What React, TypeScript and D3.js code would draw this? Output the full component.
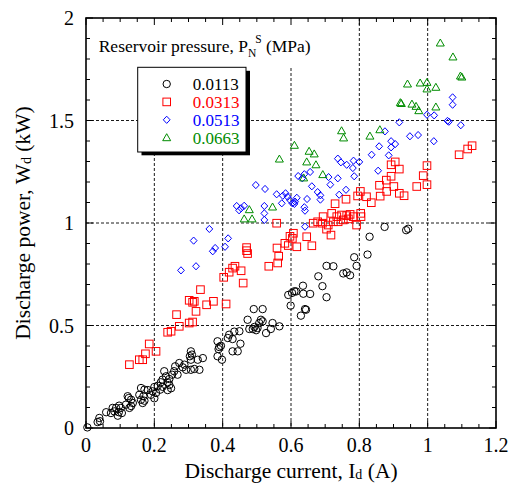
import React from 'react';
import * as d3 from 'd3';

// Series: reservoir pressure 0.0113 MPa (black circles)
const s0113: [number, number][] = [
  [0.874, 0.981], [0.937, 0.965], [0.943, 0.972], [0.830, 0.933], [0.785, 0.833], [0.824, 0.846],
  [0.792, 0.791], [0.704, 0.791], [0.724, 0.789], [0.753, 0.754], [0.763, 0.759], [0.773, 0.745],
  [0.680, 0.740], [0.635, 0.694], [0.692, 0.692], [0.610, 0.667], [0.603, 0.659], [0.592, 0.649],
  [0.615, 0.666], [0.636, 0.655], [0.656, 0.654], [0.704, 0.638], [0.599, 0.597], [0.641, 0.580],
  [0.644, 0.577], [0.629, 0.548], [0.517, 0.580], [0.491, 0.580], [0.473, 0.528], [0.512, 0.528],
  [0.507, 0.512], [0.517, 0.520], [0.478, 0.483], [0.488, 0.483], [0.498, 0.477], [0.502, 0.488],
  [0.493, 0.493], [0.527, 0.463], [0.546, 0.512], [0.566, 0.496], [0.541, 0.483], [0.419, 0.455],
  [0.415, 0.439], [0.429, 0.434], [0.449, 0.472], [0.452, 0.411], [0.434, 0.470], [0.385, 0.423],
  [0.390, 0.395], [0.395, 0.401], [0.388, 0.385], [0.385, 0.350], [0.398, 0.333], [0.429, 0.374],
  [0.444, 0.374], [0.307, 0.374], [0.310, 0.358], [0.304, 0.350], [0.307, 0.333], [0.342, 0.341],
  [0.327, 0.333], [0.332, 0.284], [0.307, 0.284], [0.317, 0.288], [0.261, 0.301], [0.273, 0.317],
  [0.283, 0.296], [0.293, 0.284], [0.288, 0.309], [0.258, 0.277], [0.268, 0.260], [0.229, 0.277],
  [0.234, 0.252], [0.224, 0.236], [0.244, 0.239], [0.252, 0.260], [0.239, 0.223], [0.219, 0.223],
  [0.210, 0.206], [0.200, 0.200], [0.195, 0.179], [0.205, 0.171], [0.190, 0.162], [0.217, 0.187],
  [0.161, 0.195], [0.171, 0.187], [0.156, 0.162], [0.168, 0.155], [0.161, 0.138], [0.166, 0.122],
  [0.125, 0.146], [0.132, 0.138], [0.137, 0.122], [0.117, 0.114], [0.127, 0.098], [0.122, 0.155],
  [0.097, 0.109], [0.102, 0.098], [0.088, 0.098], [0.078, 0.098], [0.083, 0.081], [0.096, 0.077],
  [0.105, 0.073], [0.093, 0.060], [0.073, 0.073], [0.059, 0.077], [0.039, 0.049], [0.041, 0.033],
  [0.034, 0.029], [0.004, 0.003], [0.244, 0.210], [0.249, 0.194], [0.239, 0.185], [0.224, 0.201],
  [0.200, 0.145], [0.181, 0.185], [0.132, 0.107], [0.171, 0.133],
];

// Series: 0.0313 MPa (red squares)
const s0313: [number, number][] = [
  [1.130, 1.377], [1.117, 1.361], [1.092, 1.333], [0.998, 1.280], [0.987, 1.231], [0.998, 1.187],
  [0.968, 1.178], [0.905, 1.298], [0.893, 1.284], [0.917, 1.263], [0.893, 1.228], [0.879, 1.209],
  [0.901, 1.178], [0.859, 1.184], [0.880, 1.154], [0.917, 1.145], [0.931, 1.133], [0.861, 1.131],
  [0.835, 1.099], [0.803, 1.154], [0.795, 1.132], [0.821, 1.128], [0.761, 1.116], [0.729, 1.094],
  [0.694, 1.031], [0.719, 1.047], [0.734, 1.031], [0.748, 1.039], [0.763, 1.036], [0.773, 1.042],
  [0.782, 1.031], [0.804, 1.047], [0.665, 0.999], [0.678, 1.006], [0.692, 0.999], [0.709, 0.990],
  [0.724, 1.006], [0.738, 1.006], [0.753, 1.015], [0.768, 1.020], [0.792, 0.990], [0.805, 1.031],
  [0.558, 0.999], [0.607, 0.950], [0.604, 0.925], [0.646, 0.933], [0.717, 0.941], [0.704, 0.970],
  [0.617, 0.884], [0.661, 0.889], [0.592, 0.890], [0.582, 0.901], [0.470, 0.880], [0.470, 0.865],
  [0.473, 0.851], [0.559, 0.878], [0.564, 0.838], [0.597, 0.935], [0.535, 0.789], [0.561, 0.805],
  [0.403, 0.735], [0.419, 0.760], [0.429, 0.780], [0.436, 0.789], [0.454, 0.767], [0.460, 0.707],
  [0.335, 0.675], [0.302, 0.623], [0.312, 0.613], [0.317, 0.618], [0.373, 0.618], [0.353, 0.601],
  [0.410, 0.605], [0.265, 0.553], [0.322, 0.569], [0.312, 0.517], [0.302, 0.512], [0.273, 0.496],
  [0.239, 0.467], [0.249, 0.472], [0.185, 0.410], [0.205, 0.374], [0.174, 0.362], [0.156, 0.333],
  [0.166, 0.333], [0.127, 0.309],
];

// Series: 0.0513 MPa (blue diamonds)
const s0513: [number, number][] = [
  [1.073, 1.613], [1.073, 1.577], [0.998, 1.528], [1.019, 1.525], [1.058, 1.498], [1.062, 1.494],
  [1.097, 1.477], [0.917, 1.491], [0.948, 1.423], [0.972, 1.429], [1.018, 1.399], [0.875, 1.447],
  [0.858, 1.374], [0.893, 1.399], [0.905, 1.385], [0.893, 1.369], [0.886, 1.330], [0.836, 1.333],
  [0.800, 1.298], [0.783, 1.304], [0.763, 1.284], [0.737, 1.314], [0.746, 1.296], [0.781, 1.268],
  [0.785, 1.228], [0.855, 1.255], [0.710, 1.224], [0.737, 1.218], [0.715, 1.187], [0.656, 1.249],
  [0.661, 1.179], [0.678, 1.151], [0.686, 1.135], [0.686, 1.114], [0.761, 1.162], [0.741, 1.138],
  [0.610, 1.093], [0.639, 1.077], [0.641, 1.060], [0.497, 1.185], [0.524, 1.166], [0.558, 1.140],
  [0.576, 1.133], [0.584, 1.145], [0.590, 1.128], [0.573, 1.096], [0.597, 1.112], [0.604, 1.096],
  [0.612, 1.104], [0.617, 1.123], [0.647, 1.117], [0.522, 1.083], [0.522, 1.047], [0.522, 1.015],
  [0.441, 1.083], [0.454, 1.072], [0.463, 1.084], [0.448, 1.062], [0.621, 1.229], [0.633, 1.218],
  [0.639, 1.238], [0.641, 0.982], [0.416, 0.925], [0.407, 0.884], [0.361, 0.971], [0.315, 0.914],
  [0.378, 0.878], [0.371, 0.862], [0.278, 0.769], [0.322, 0.789],
];

// Series: 0.0663 MPa (green triangles)
const s0663: [number, number][] = [
  [1.037, 1.878], [1.074, 1.810], [1.096, 1.717], [1.100, 1.712], [0.941, 1.678], [0.978, 1.683],
  [0.998, 1.686], [0.998, 1.654], [1.024, 1.662], [0.920, 1.587], [0.923, 1.583], [0.954, 1.580],
  [0.966, 1.569], [0.974, 1.548], [1.024, 1.566], [0.748, 1.450], [0.754, 1.415], [0.831, 1.424],
  [0.860, 1.455], [0.610, 1.379], [0.653, 1.350], [0.668, 1.337], [0.646, 1.298], [0.673, 1.284],
  [0.693, 1.236], [0.637, 1.220], [0.566, 1.312], [0.478, 1.065], [0.546, 1.078], [0.463, 1.020],
  [0.486, 1.020],
];

const xTicks = [0, 0.2, 0.4, 0.6, 0.8, 1, 1.2];
const xTickLabels = ['0', '0.2', '0.4', '0.6', '0.8', '1', '1.2'];
const yTicks = [0, 0.5, 1, 1.5, 2];
const yTickLabels = ['0', '0.5', '1', '1.5', '2'];
const legendLabels = ['0.0113', '0.0313', '0.0513', '0.0663'];
const seriesColors = ['#000000', '#ff0000', '#0000ff', '#008c00'];
const seriesShapes = ['circle', 'square', 'diamond', 'triangle'];

const FONT = '"Liberation Serif", "Times New Roman", serif';

function Marker({ shape, cx, cy, color }: { shape: string; cx: number; cy: number; color: string }) {
  const common = { fill: 'none', stroke: color, strokeWidth: 1 };
  if (shape === 'circle') return <circle cx={cx} cy={cy} r={3.7} {...common} />;
  if (shape === 'square') return <rect x={cx - 3.8} y={cy - 3.8} width={7.6} height={7.6} {...common} />;
  if (shape === 'diamond')
    return <path d={`M${cx},${cy - 3.6}L${cx + 3.4},${cy}L${cx},${cy + 3.6}L${cx - 3.4},${cy}Z`} {...common} />;
  return <path d={`M${cx},${cy - 4}L${cx + 4},${cy + 3}L${cx - 4},${cy + 3}Z`} {...common} />;
}

export default function App() {
  const W = 515, H = 484;
  const L = 86, R = 496, T = 18, B = 428;
  const x = d3.scaleLinear().domain([0, 1.2]).range([L, R]);
  const y = d3.scaleLinear().domain([0, 2]).range([B, T]);

  const xMinor = d3.range(0, 1.2001, 0.05);
  const yMinor = d3.range(0, 2.0001, 0.1);
  const allSeries = [s0113, s0313, s0513, s0663];
  const legendY = (i: number) => 84 + i * 17.9;

  return (
    <svg width={W} height={H} style={{ position: 'absolute', left: 0, top: 0, background: '#fff' }}
      fontFamily={FONT}>
      <rect x={0} y={0} width={W} height={H} fill="#fff" />
      {/* grid */}
      {xTicks.slice(1, -1).map((t) => (
        <line key={'gx' + t} x1={x(t)} x2={x(t)} y1={T} y2={B} stroke="#000" strokeWidth={0.9} strokeDasharray="3 2" />
      ))}
      {yTicks.slice(1, -1).map((t) => (
        <line key={'gy' + t} x1={L} x2={R} y1={y(t)} y2={y(t)} stroke="#000" strokeWidth={0.9} strokeDasharray="3 2" />
      ))}
      {/* title backdrop */}
      <rect x={L + 1} y={T + 1} width={226} height={48} fill="#fff" />
      {/* minor/major ticks */}
      {xMinor.map((t, i) => {
        const len = i % 4 === 0 ? 7 : 4;
        return (
          <g key={'tx' + i}>
            <line x1={x(t)} x2={x(t)} y1={B} y2={B - len} stroke="#000" strokeWidth={1} />
            <line x1={x(t)} x2={x(t)} y1={T} y2={T + len} stroke="#000" strokeWidth={1} />
          </g>
        );
      })}
      {yMinor.map((t, i) => {
        const len = i % 5 === 0 ? 7 : 4;
        return (
          <g key={'ty' + i}>
            <line x1={L} x2={L + len} y1={y(t)} y2={y(t)} stroke="#000" strokeWidth={1} />
            <line x1={R} x2={R - len} y1={y(t)} y2={y(t)} stroke="#000" strokeWidth={1} />
          </g>
        );
      })}
      {/* data */}
      {allSeries.map((s, si) => (
        <g key={'s' + si}>
          {s.map((d, i) => (
            <Marker key={i} shape={seriesShapes[si]} cx={x(d[0])} cy={y(d[1])} color={seriesColors[si]} />
          ))}
        </g>
      ))}
      {/* frame */}
      <rect x={L} y={T} width={R - L} height={B - T} fill="none" stroke="#000" strokeWidth={1.6} />
      {/* tick labels */}
      {xTicks.map((t, i) => (
        <text key={'xl' + i} x={x(t)} y={452} fontSize={20} textAnchor="middle" fill="#000">
          {xTickLabels[i]}
        </text>
      ))}
      {yTicks.map((t, i) => (
        <text key={'yl' + i} x={74} y={y(t) + 7} fontSize={20} textAnchor="end" fill="#000">
          {yTickLabels[i]}
        </text>
      ))}
      {/* axis titles */}
      <text x={291} y={478} fontSize={21.5} textAnchor="middle" fill="#000">
        Discharge current, I<tspan fontSize={14} dy={1}>d</tspan><tspan dy={-1}> (A)</tspan>
      </text>
      <text transform={`translate(30,${(T + B) / 2}) rotate(-90)`} fontSize={21.5} textAnchor="middle" fill="#000">
        Discharge power, W<tspan fontSize={14} dy={1}>d</tspan><tspan dy={-1}> (kW)</tspan>
      </text>
      {/* in-plot title */}
      <text x={98.7} y={52} fontSize={17.5} fill="#000">
        Reservoir pressure, P<tspan fontSize={11.5} dx={0} dy={5}>N</tspan>
        <tspan fontSize={11.5} dx={-1} dy={-14}>S</tspan>
        <tspan fontSize={17.5} dy={9}> (MPa)</tspan>
      </text>
      {/* legend */}
      <rect x={141.5} y={70.8} width={108.5} height={84.5} fill="#000" />
      <rect x={137.7} y={67.3} width={108.3} height={84.7} fill="#fff" stroke="#000" strokeWidth={1} />
      {legendLabels.map((lab, i) => (
        <Marker key={'lm' + i} shape={seriesShapes[i]} cx={166.7} cy={legendY(i)} color={seriesColors[i]} />
      ))}
      <text fontSize={17} x={192.7} y={legendY(0) + 6}>
        {legendLabels.map((lab, i) => (
          <tspan key={'lt' + i} x={192.7} y={legendY(i) + 6} fill={seriesColors[i]}>{lab}</tspan>
        ))}
      </text>
    </svg>
  );
}
